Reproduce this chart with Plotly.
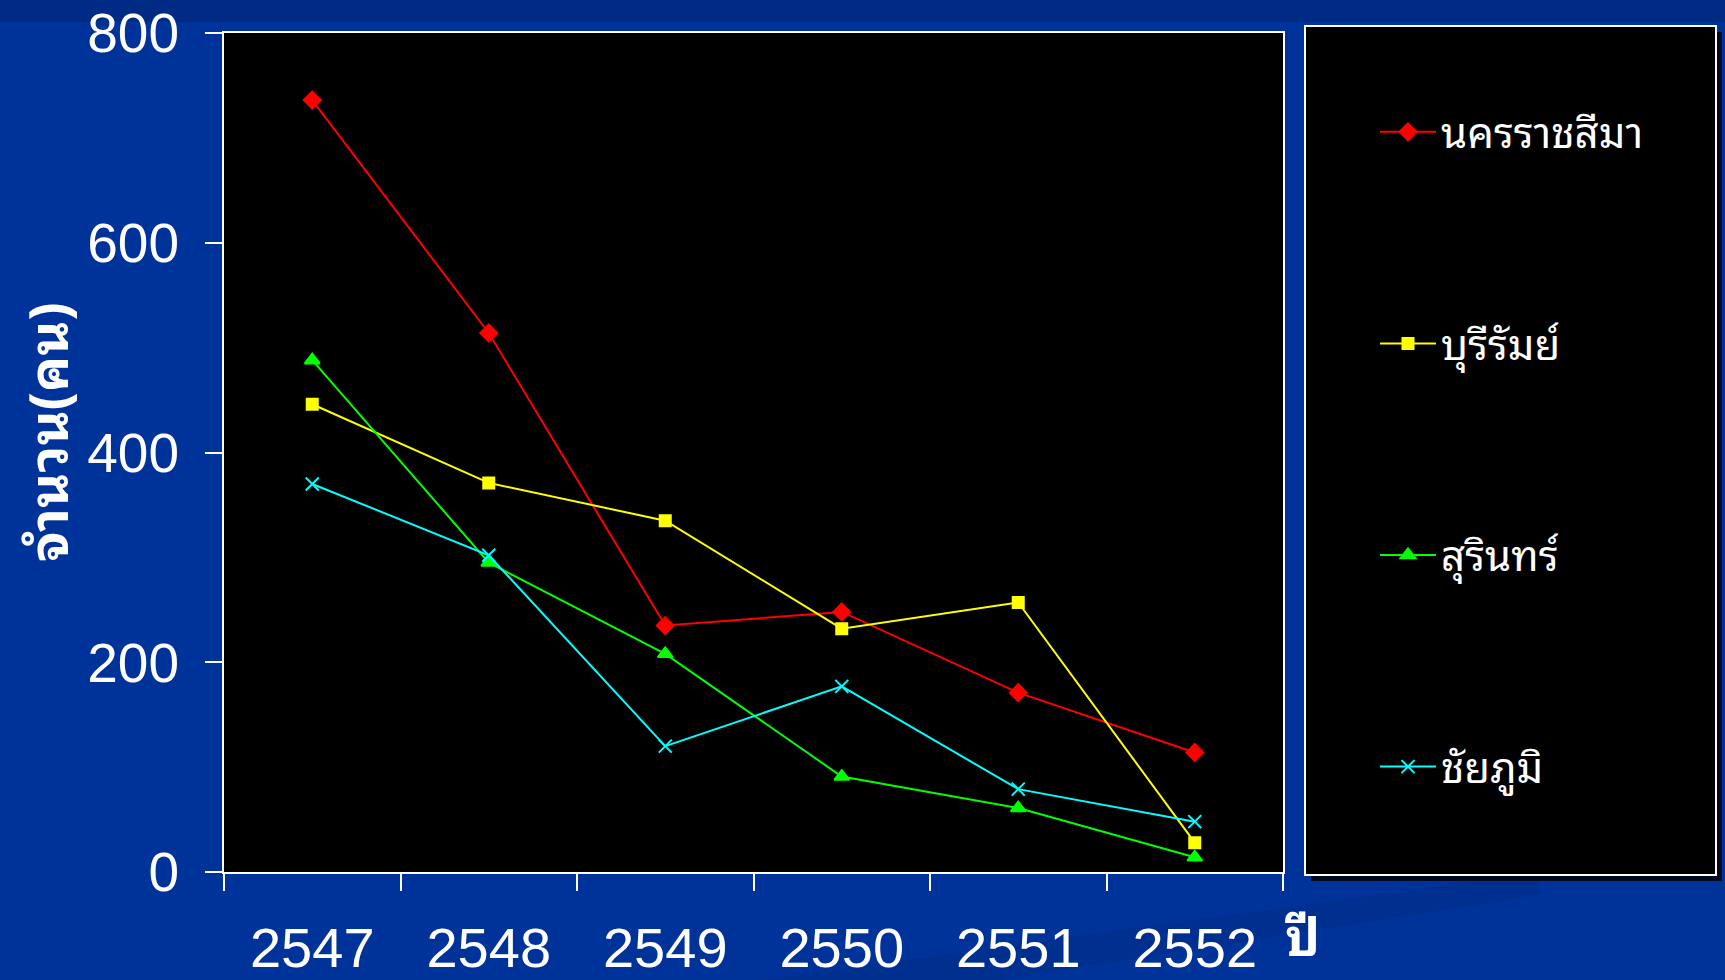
import plotly.graph_objects as go

# Years (Buddhist era) and yearly counts per province
years = ["2547", "2548", "2549", "2550", "2551", "2552"]
nakhon_ratchasima = [736, 514, 235, 248, 171, 114]
buriram = [446, 371, 335, 232, 257, 28]
surin = [488, 295, 208, 91, 61, 14]
chaiyaphum = [370, 302, 120, 177, 79, 48]

y_ticks = [0, 200, 400, 600, 800]

series = [
    ("นครราชสีมา", nakhon_ratchasima, "#FF0000", "diamond", 13),
    ("บุรีรัมย์", buriram, "#FFFF00", "square", 11),
    ("สุรินทร์", surin, "#00FF00", "triangle-up", 13),
    ("ชัยภูมิ", chaiyaphum, "#00FFFF", "x-thin-open", 13),
]

W, H = 1725, 980
L, R, T, B = 224, 1283, 33, 872  # plot area in pixels


def px(x):
    return (x - L) / (R - L)


def py(y):
    return (B - y) / (B - T)


THAI = "Tahoma, 'Noto Sans Thai Looped', 'Noto Sans Thai', 'Noto Sans', sans-serif"
LATIN = "'Liberation Sans', Arial, sans-serif"

fig = go.Figure()
for i, (name, vals, color, symbol, size) in enumerate(series):
    fig.add_trace(go.Scatter(
        x=years, y=vals, name=name, mode="lines+markers",
        legendgroup=f"g{i}",
        line=dict(color=color, width=2),
        marker=dict(symbol=symbol, size=size, color=color,
                    line=dict(color=color, width=2)),
    ))

shapes = [
    # darker band along the top edge of the page
    dict(type="rect", xref="paper", yref="paper", x0=px(0), x1=px(W),
         y0=py(0), y1=py(22), fillcolor="#002B85", line_width=0, layer="below"),
    # faint diagonal streak in the lower right
    dict(type="path", xref="paper", yref="paper",
         path=f"M {px(760)},{py(980)} L {px(1540)},{py(872)} L {px(1540)},{py(895)} L {px(1000)},{py(980)} Z",
         fillcolor="#00308F", line_width=0, layer="below"),
    # legend panel shadow and panel
    dict(type="rect", xref="paper", yref="paper", x0=px(1311), x1=px(1722),
         y0=py(881), y1=py(32), fillcolor="#000820", line_width=0, layer="above"),
    dict(type="rect", xref="paper", yref="paper", x0=px(1305), x1=px(1716),
         y0=py(875), y1=py(26), fillcolor="#000000",
         line=dict(color="#FFFFFF", width=2), layer="above"),
]

fig.update_layout(
    width=W, height=H,
    margin=dict(l=L, r=W - R, t=T, b=H - B, autoexpand=False),
    paper_bgcolor="#003399",
    plot_bgcolor="#000000",
    shapes=shapes,
    showlegend=True,
    legend=dict(
        x=px(1375), y=py(98), xanchor="left", yanchor="top",
        bgcolor="rgba(0,0,0,0)", borderwidth=0,
        font=dict(family=THAI, size=42, color="#FFFFFF"),
        traceorder="grouped", tracegroupgap=154, itemwidth=56,
    ),
    xaxis=dict(
        type="category", range=[-0.5, 5.5], tickson="boundaries", ticks="outside",
        ticklen=17, tickwidth=2, tickcolor="#FFFFFF",
        showline=True, linecolor="#FFFFFF", linewidth=2, mirror=True,
        showgrid=False, zeroline=False, automargin=False,
        tickfont=dict(family=LATIN, size=56, color="#FFFFFF"),
        ticklabelstandoff=26,
    ),
    yaxis=dict(
        range=[0, 800], tickvals=y_ticks, ticks="outside",
        ticklen=17, tickwidth=2, tickcolor="#FFFFFF",
        showline=True, linecolor="#FFFFFF", linewidth=2, mirror=True,
        showgrid=False, zeroline=False, automargin=False,
        tickfont=dict(family=LATIN, size=55, color="#FFFFFF"),
        ticklabelstandoff=15,
    ),
    annotations=[
        dict(text="<b>จำนวน(คน)</b>", textangle=-90, xref="paper", yref="paper",
             x=px(44), y=py(432), xanchor="center", yanchor="middle",
             showarrow=False, font=dict(family=THAI, size=54, color="#FFFFFF")),
        dict(text="<b>ปี</b>", xref="paper", yref="paper",
             x=px(1283), y=py(932), xanchor="left", yanchor="middle",
             showarrow=False, font=dict(family=THAI, size=52, color="#FFFFFF")),
    ],
)

fig.write_html("out.html")
